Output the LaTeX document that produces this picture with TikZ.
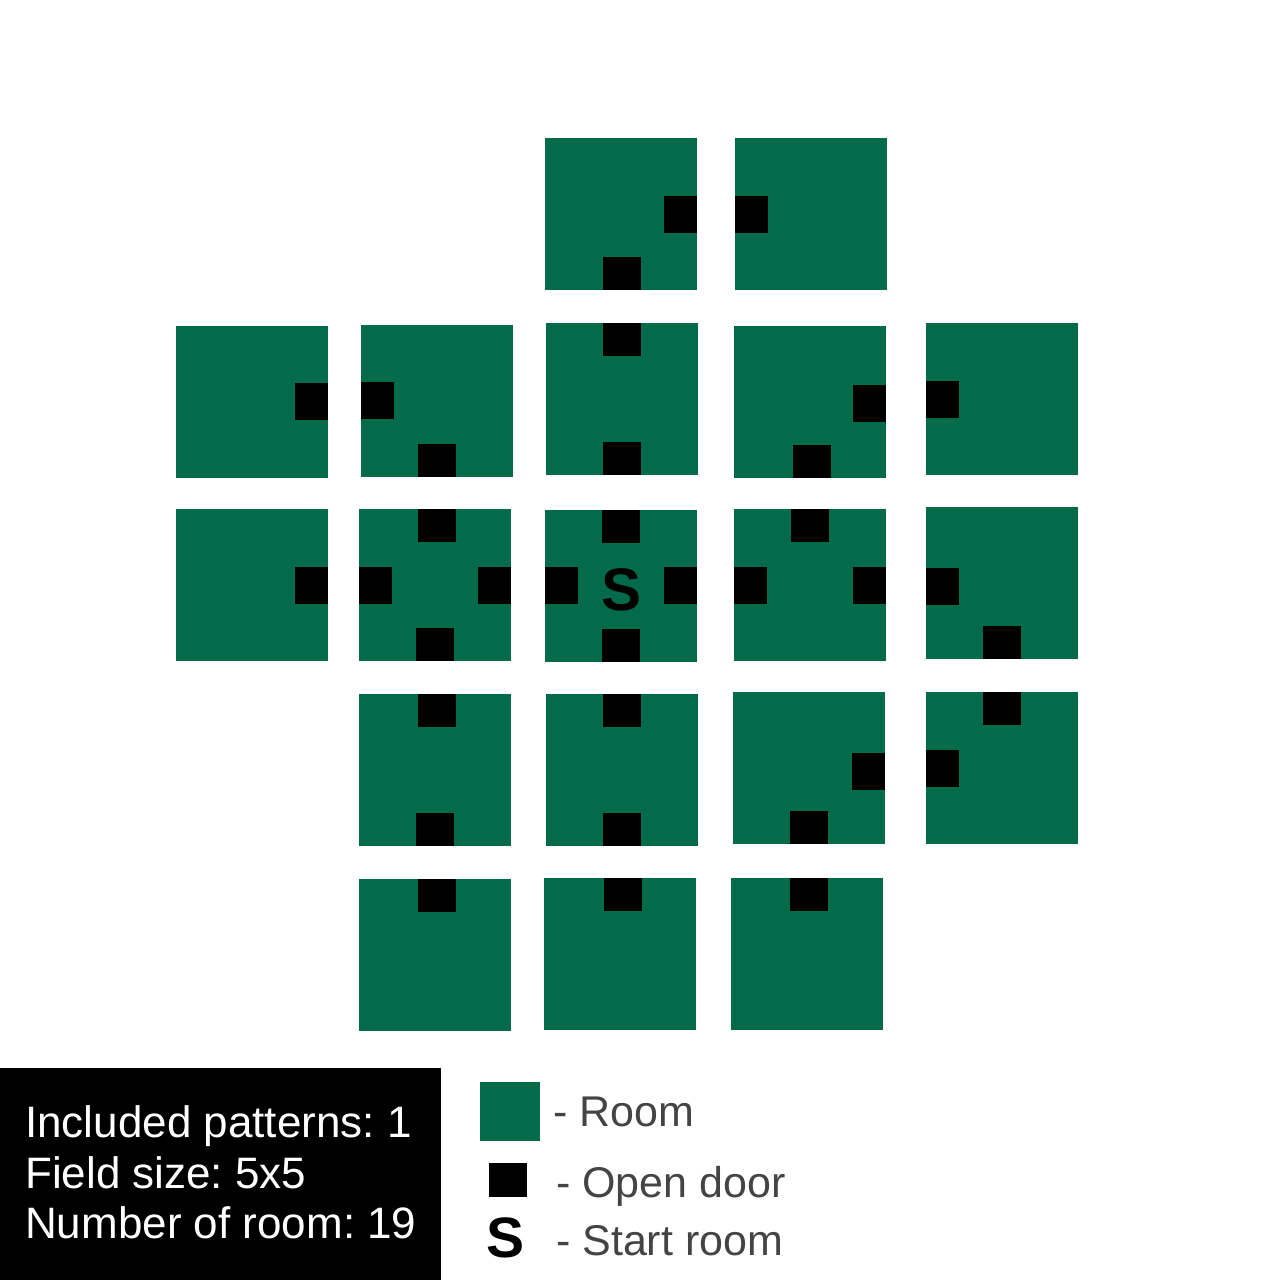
\documentclass[tikz,border=0pt]{standalone}
\usepackage{fontspec}
\setmainfont{Liberation Sans}
\definecolor{roomgreen}{RGB}{3,106,74}
\definecolor{legendgray}{RGB}{68,68,68}
\tikzset{
  room/.style={fill=roomgreen, draw=none, minimum size=152pt, inner sep=0pt, outer sep=0pt},
  hdoor/.style={fill=black, draw=none, minimum width=38pt, minimum height=33pt, inner sep=0pt, outer sep=0pt},
  vdoor/.style={fill=black, draw=none, minimum width=33pt, minimum height=37pt, inner sep=0pt, outer sep=0pt},
  infotext/.style={text=white, anchor=base west, inner sep=0pt, font=\fontsize{44}{50}\selectfont\frenchspacing},
  legtext/.style={text=legendgray, anchor=base west, inner sep=0pt, font=\fontsize{43}{50}\selectfont\frenchspacing}
}
\begin{document}
\begin{tikzpicture}[x=1pt, y=-1pt]
\useasboundingbox (0,0) rectangle (1280,1280);
\fill[white] (0,0) rectangle (1280,1280);
% rooms
\node[room] (R01) at (621,214) {};
\node[room] (R02) at (811,214) {};
\node[room] (R10) at (252,401.5) {};
\node[room] (R11) at (437,400.5) {};
\node[room] (R12) at (622,399) {};
\node[room] (R13) at (810,401.5) {};
\node[room] (R14) at (1002,399) {};
\node[room] (R20) at (252,585) {};
\node[room] (R21) at (435,585) {};
\node[room] (R22) at (621,585.5) {};
\node[room] (R23) at (810,585) {};
\node[room] (R24) at (1002,583) {};
\node[room] (R31) at (435,770) {};
\node[room] (R32) at (622,770) {};
\node[room] (R33) at (809,768) {};
\node[room] (R34) at (1002,768) {};
\node[room] (R41) at (435,955) {};
\node[room] (R42) at (620,954) {};
\node[room] (R43) at (807,954) {};
% doors
\node[vdoor, anchor=east] (D01e) at (R01.east) {};
\node[hdoor, anchor=south] (D01s) at ([xshift=1pt]R01.south) {};
\node[vdoor, anchor=west] (D02w) at (R02.west) {};
\node[vdoor, anchor=east] (D10e) at (R10.east) {};
\node[vdoor, anchor=west] (D11w) at (R11.west) {};
\node[hdoor, anchor=south] (D11s) at (R11.south) {};
\node[hdoor, anchor=north] (D12n) at (R12.north) {};
\node[hdoor, anchor=south] (D12s) at (R12.south) {};
\node[vdoor, anchor=east] (D13e) at ([yshift=-2pt]R13.east) {};
\node[hdoor, anchor=south] (D13s) at ([xshift=2pt]R13.south) {};
\node[vdoor, anchor=west] (D14w) at (R14.west) {};
\node[vdoor, anchor=east] (D20e) at (R20.east) {};
\node[hdoor, anchor=north] (D21n) at ([xshift=2pt]R21.north) {};
\node[vdoor, anchor=west] (D21w) at (R21.west) {};
\node[vdoor, anchor=east] (D21e) at (R21.east) {};
\node[hdoor, anchor=south] (D21s) at (R21.south) {};
\node[hdoor, anchor=north] (D22n) at (R22.north) {};
\node[vdoor, anchor=west] (D22w) at (R22.west) {};
\node[vdoor, anchor=east] (D22e) at (R22.east) {};
\node[hdoor, anchor=south] (D22s) at (R22.south) {};
\node[hdoor, anchor=north] (D23n) at (R23.north) {};
\node[vdoor, anchor=west] (D23w) at (R23.west) {};
\node[vdoor, anchor=east] (D23e) at (R23.east) {};
\node[vdoor, anchor=west] (D24w) at ([yshift=-3pt]R24.west) {};
\node[hdoor, anchor=south] (D24s) at (R24.south) {};
\node[hdoor, anchor=north] (D31n) at ([xshift=2pt]R31.north) {};
\node[hdoor, anchor=south] (D31s) at (R31.south) {};
\node[hdoor, anchor=north] (D32n) at (R32.north) {};
\node[hdoor, anchor=south] (D32s) at (R32.south) {};
\node[vdoor, anchor=east] (D33e) at ([yshift=-3pt]R33.east) {};
\node[hdoor, anchor=south] (D33s) at (R33.south) {};
\node[hdoor, anchor=north] (D34n) at (R34.north) {};
\node[vdoor, anchor=west] (D34w) at (R34.west) {};
\node[hdoor, anchor=north] (D41n) at ([xshift=2pt]R41.north) {};
\node[hdoor, anchor=north] (D42n) at ([xshift=3pt]R42.north) {};
\node[hdoor, anchor=north] (D43n) at ([xshift=2pt]R43.north) {};
% start mark
\node[anchor=base, inner sep=0pt, font=\fontsize{60}{60}\bfseries\selectfont] (Smark) at (621.5,610) {S};
% info box
\node[fill=black, draw=none, minimum width=441pt, minimum height=212pt, inner sep=0pt, anchor=north west] (infobox) at (0,1068) {};
\node[infotext] (info1) at (25,1137) {Included patterns: 1};
\node[infotext] (info2) at (25,1188) {Field size: 5x5};
\node[infotext] (info3) at (25,1238) {Number of room: 19};
% legend
\node[fill=roomgreen, draw=none, minimum width=60pt, minimum height=59pt, inner sep=0pt, anchor=north west] (legroom) at (480,1082) {};
\node[legtext] (legroomtxt) at (553,1126) {- Room};
\node[fill=black, draw=none, minimum width=38pt, minimum height=34pt, inner sep=0pt, anchor=north west] (legdoor) at (489,1163) {};
\node[legtext] (legdoortxt) at (556,1197) {- Open door};
\node[anchor=base west, inner sep=0pt, font=\fontsize{57}{57}\bfseries\selectfont] (legS) at (486,1257) {S};
\node[legtext] (legStxt) at (556,1255) {- Start room};
\end{tikzpicture}
\end{document}
